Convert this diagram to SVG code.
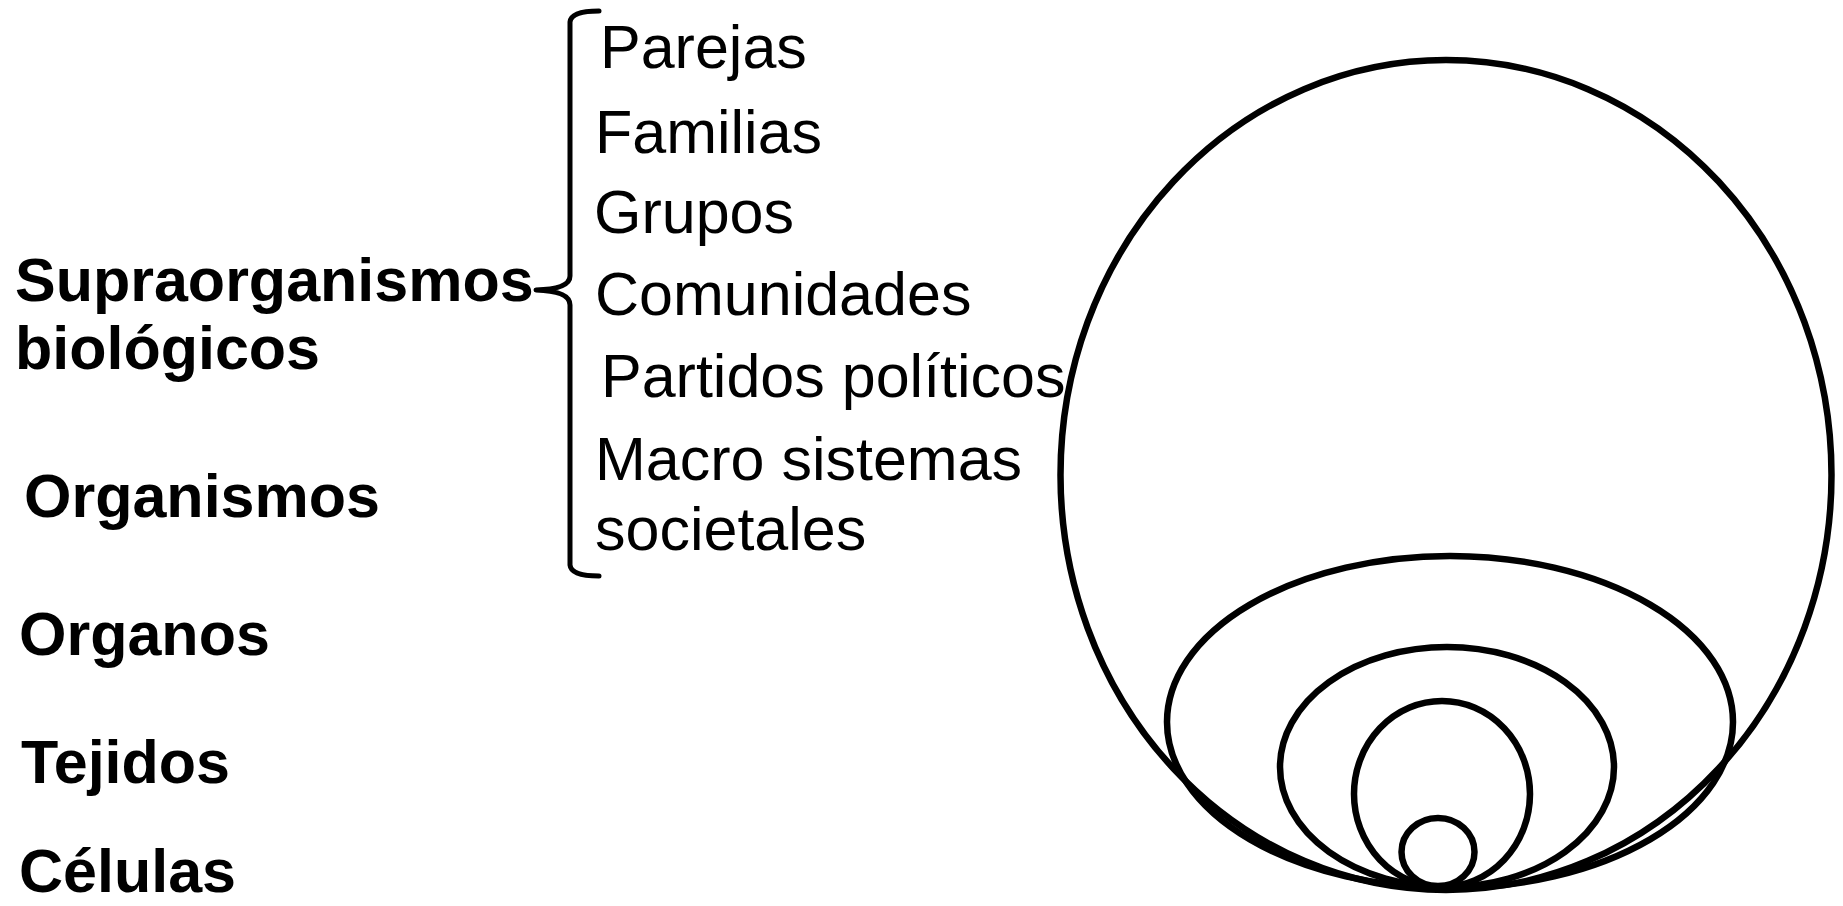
<svg xmlns="http://www.w3.org/2000/svg" width="1843" height="906" viewBox="0 0 1843 906">
<style>
.b{font-family:"Liberation Sans",Arial,sans-serif;font-weight:bold;font-size:61px;fill:#000}
.r{font-family:"Liberation Sans",Arial,sans-serif;font-size:61px;fill:#000}
.o{fill:none;stroke:#000;stroke-width:6.5}
.br{fill:none;stroke:#000;stroke-width:5;stroke-linejoin:round;stroke-linecap:round}
</style>
<rect width="1843" height="906" fill="#fff"/>
<g id="levels">
<text class="b" x="15" y="301">Supraorganismos</text>
<text class="b" x="15" y="369">biológicos</text>
<text class="b" x="24" y="517">Organismos</text>
<text class="b" x="19" y="655">Organos</text>
<text class="b" x="21" y="783">Tejidos</text>
<text class="b" x="19" y="892">Células</text>
</g>
<g id="bracket">
<path class="br" d="M599 11 Q571 11 570 22 L570 276 Q570 289 536 290 Q570 291 570 305 L570 565 Q571 576 599 576"/>
</g>
<g id="supra-list">
<text class="r" x="600" y="68">Parejas</text>
<text class="r" x="595" y="153">Familias</text>
<text class="r" x="594" y="233">Grupos</text>
<text class="r" x="595" y="315">Comunidades</text>
<text class="r" x="601" y="397">Partidos políticos</text>
<text class="r" x="595" y="480">Macro sistemas</text>
<text class="r" x="595" y="550">societales</text>
</g>
<g id="nested-circles">
<ellipse class="o" cx="1446" cy="475" rx="385.5" ry="415"/>
<ellipse class="o" cx="1450" cy="722" rx="283" ry="166"/>
<ellipse class="o" cx="1447" cy="767" rx="167" ry="120"/>
<ellipse class="o" cx="1442" cy="794" rx="88" ry="93"/>
<ellipse class="o" cx="1438" cy="852" rx="36.5" ry="34"/>
</g>
</svg>
